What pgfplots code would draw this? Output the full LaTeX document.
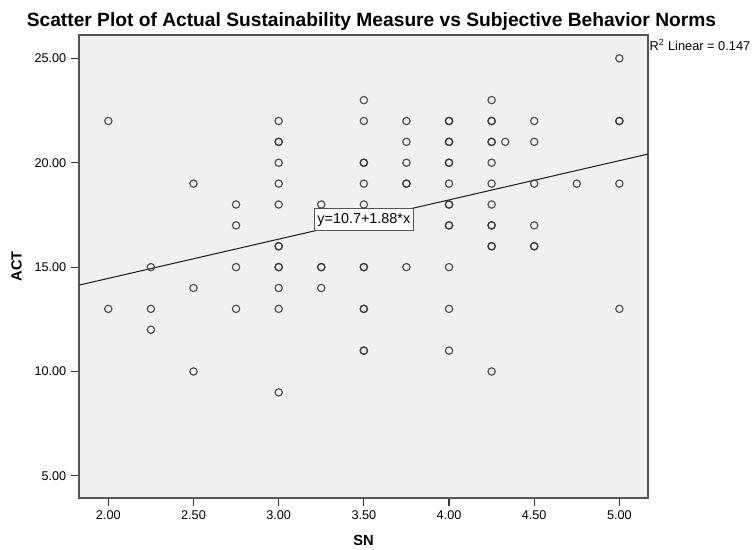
\documentclass[border=0pt]{standalone}
\usepackage{fontspec}
\setmainfont{Liberation Sans}
\usepackage{pgfplots}
\pgfplotsset{compat=1.18}
\definecolor{bg}{HTML}{F0F0F0}
\definecolor{frame}{HTML}{555555}
\definecolor{mk}{HTML}{383838}
\pgfplotstableread{
x y
2.00 22
2.00 13
2.25 15
2.25 13
2.25 12
2.50 19
2.50 14
2.50 10
2.75 18
2.75 17
2.75 15
2.75 13
3.00 22
3.00 21
3.00 21
3.00 20
3.00 19
3.00 18
3.00 16
3.00 16
3.00 15
3.00 15
3.00 14
3.00 13
3.00 9
3.25 18
3.25 15
3.25 15
3.25 14
3.50 23
3.50 22
3.50 20
3.50 20
3.50 19
3.50 18
3.50 15
3.50 15
3.50 13
3.50 13
3.50 11
3.50 11
3.75 22
3.75 21
3.75 20
3.75 19
3.75 19
3.75 15
4.00 22
4.00 22
4.00 21
4.00 21
4.00 20
4.00 20
4.00 19
4.00 18
4.00 18
4.00 17
4.00 17
4.00 15
4.00 13
4.00 11
4.25 23
4.25 22
4.25 22
4.25 21
4.25 21
4.25 20
4.25 19
4.25 18
4.25 17
4.25 17
4.25 16
4.25 16
4.25 10
4.33 21
4.50 22
4.50 21
4.50 19
4.50 17
4.50 16
4.50 16
4.75 19
5.00 25
5.00 22
5.00 22
5.00 19
5.00 13
}\pts
\begin{document}
\begin{tikzpicture}
\useasboundingbox (-59.25pt,-38.25pt) rectangle (507pt,373.5pt);
\begin{axis}[
  at={(0,0)}, anchor=south west,
  scale only axis, width=426.75pt, height=347.25pt,
  xmin=1.828, xmax=5.168, ymin=3.94, ymax=26.12,
  axis background/.style={fill=bg},
  axis line style={draw=frame, line width=1.1pt},
  xtick={2,2.5,3,3.5,4,4.5,5}, ytick={5,10,15,20,25},
  xtick pos=bottom, ytick pos=left,
  tick align=outside, major tick length=6pt,
  tick style={draw=black!80, line width=0.9pt},
  tick label style={font=\fontsize{9.5}{11}\selectfont},
  /pgf/number format/.cd, fixed, fixed zerofill, precision=2, assume math mode=true, /pgfplots/.cd,
  xlabel={SN}, ylabel={ACT},
  label style={font=\fontsize{11}{13}\selectfont\bfseries},
  xlabel style={at={(rel axis cs:0.5,-0.0907)}, anchor=center},
  ylabel style={at={(rel axis cs:-0.1099,0.5)}, anchor=center},
  clip=false,
]
\addplot[draw=black!85, line width=0.8pt] coordinates {(1.828,14.137) (5.168,20.416)};
\addplot[only marks, mark=o, mark size=2.75pt, mark options={draw=mk, draw opacity=0.85, line width=0.9pt}] table[x=x,y=y] {\pts};
\node[draw=frame, fill=white, line width=0.6pt, inner xsep=2pt, minimum height=16.5pt, font=\fontsize{10.8}{12}\selectfont] at (axis cs:3.5,17.28) {y=10.7+1.88*x};
\node[anchor=base west, inner sep=0pt, xshift=1pt, font=\fontsize{9.6}{11}\selectfont] at (rel axis cs:1,0.9661) {R\textsuperscript{2} Linear = 0.147};
\node[anchor=base, inner sep=0pt, font=\fontsize{14.4}{16}\selectfont\bfseries] at (rel axis cs:0.514,1.018) {Scatter Plot of Actual Sustainability Measure vs Subjective Behavior Norms};
\end{axis}
\end{tikzpicture}
\end{document}
